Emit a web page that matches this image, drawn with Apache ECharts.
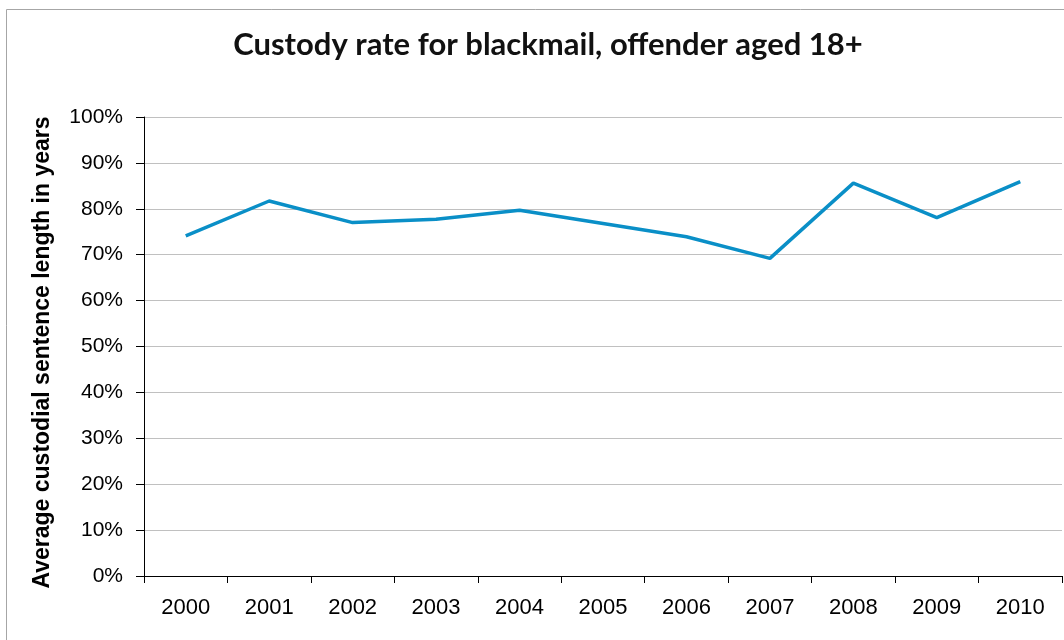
<!DOCTYPE html>
<html>
<head>
<meta charset="utf-8">
<script src="https://cdn.jsdelivr.net/npm/echarts@6/dist/echarts.min.js"></script>
<style>
  html, body { margin: 0; padding: 0; background: #ffffff; }
  #chart { width: 1064px; height: 640px; }
</style>
</head>
<body>
<div id="chart"></div>
<script>
// Custody rate by year (percent)
const years = ['2000', '2001', '2002', '2003', '2004', '2005', '2006', '2007', '2008', '2009', '2010'];
const custodyRate = [74.1, 81.7, 77.0, 77.7, 79.7, 76.8, 73.9, 69.2, 85.6, 78.1, 85.9];

const chart = echarts.init(document.getElementById('chart'));

chart.setOption({
  backgroundColor: '#ffffff',
  animation: false,
  graphic: [{
    type: 'rect',
    left: 4, top: 7,
    shape: { width: 1100, height: 700 },
    style: { fill: 'none', stroke: '#a6a6a6', lineWidth: 1 },
    silent: true
  }],
  title: {
    text: 'Custody rate for blackmail, offender aged 18+',
    left: 543,
    textAlign: 'center',
    top: 24,
    textStyle: { fontFamily: 'Lato', fontSize: 31, fontWeight: 'bold', color: '#111111' }
  },
  grid: { left: 144, right: 2, top: 117, bottom: 64, containLabel: false },
  xAxis: {
    type: 'category',
    data: years,
    boundaryGap: true,
    axisLine: { lineStyle: { color: '#000000', width: 1 } },
    axisTick: { show: true, interval: 0, length: 7, lineStyle: { color: '#000000' } },
    axisLabel: { margin: 21, fontFamily: 'Liberation Sans', fontSize: 22, color: '#000000' },
    splitLine: { show: false }
  },
  yAxis: {
    type: 'value',
    min: 0, max: 100, interval: 10,
    name: 'Average custodial sentence length in years',
    nameLocation: 'middle',
    nameGap: 90,
    nameTextStyle: { fontFamily: 'Liberation Sans', fontSize: 23, fontWeight: 'bold', color: '#000000', padding: [0, 12, 0, 0] },
    axisLine: { show: true, lineStyle: { color: '#000000', width: 1 } },
    axisTick: { show: true, length: 8, inside: false, lineStyle: { color: '#000000' } },
    axisLabel: { margin: 21, fontFamily: 'Liberation Sans', fontSize: 21, color: '#000000', formatter: '{value}%' },
    splitLine: { show: true, lineStyle: { color: '#c0c0c0', width: 1 } }
  },
  series: [{
    type: 'line',
    data: custodyRate,
    symbol: 'none',
    lineStyle: { color: '#0a8fc7', width: 3.5 },
    itemStyle: { color: '#0a8fc7' }
  }]
});
</script>
</body>
</html>
